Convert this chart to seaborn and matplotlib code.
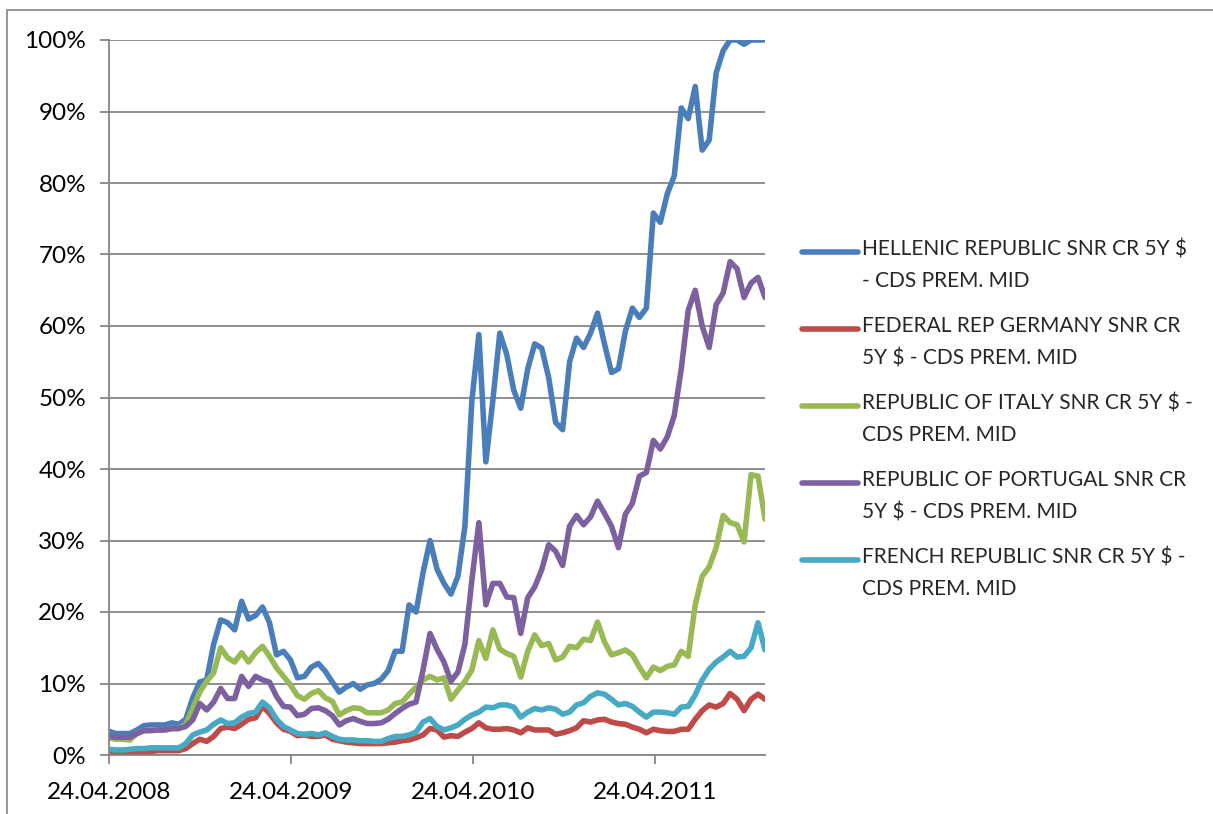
import numpy as np
import pandas as pd
import matplotlib
matplotlib.use("Agg")
import matplotlib.pyplot as plt
import matplotlib.dates as mdates
from matplotlib.patches import Rectangle
from matplotlib.legend_handler import HandlerLine2D
from matplotlib.ticker import PercentFormatter
import seaborn as sns

sns.set_style("white")
plt.rcParams['font.family'] = ['Lato', 'DejaVu Sans']

# fechas cada dos semanas desde el inicio del eje
fechas = pd.date_range("2008-04-24", periods=95, freq="14D")

grecia = [3.3, 3.0, 3.0, 3.0, 3.5, 4.1, 4.2, 4.2, 4.2, 4.5,
          4.3, 5.0, 8.0, 10.2, 10.5, 15.5, 18.9, 18.5, 17.5, 21.5,
          19.0, 19.5, 20.7, 18.5, 14.0, 14.5, 13.3, 10.8, 11.0, 12.3,
          12.8, 11.7, 10.2, 8.8, 9.5, 10.0, 9.2, 9.8, 10.0, 10.6,
          11.8, 14.5, 14.5, 21.0, 20.0, 25.5, 30.0, 26.0, 24.0, 22.5,
          25.0, 32.0, 49.6, 58.8, 41.0, 49.6, 59.0, 56.0, 51.0, 48.5,
          54.0, 57.5, 56.9, 52.8, 46.5, 45.5, 55.0, 58.3, 57.0, 59.0,
          61.8, 57.5, 53.5, 54.0, 59.3, 62.5, 61.2, 62.5, 75.8, 74.5,
          78.5, 81.0, 90.5, 89.0, 93.5, 84.6, 86.0, 95.4, 98.5, 100,
          100, 99.4, 100, 100, 100]
alemania = [0.3, 0.3, 0.4, 0.4, 0.5, 0.5, 0.5, 0.6, 0.6, 0.6,
            0.6, 0.9, 1.6, 2.2, 1.9, 2.6, 3.7, 3.9, 3.7, 4.3,
            5.0, 5.2, 6.8, 5.8, 4.5, 3.6, 3.3, 2.7, 2.8, 2.6,
            2.6, 2.8, 2.2, 2.0, 1.8, 1.7, 1.6, 1.6, 1.6, 1.6,
            1.7, 1.8, 2.0, 2.1, 2.4, 2.8, 3.7, 3.5, 2.5, 2.7,
            2.6, 3.2, 3.7, 4.5, 3.8, 3.6, 3.6, 3.7, 3.5, 3.1,
            3.8, 3.5, 3.5, 3.5, 2.9, 3.1, 3.4, 3.8, 4.8, 4.6,
            4.9, 5.0, 4.6, 4.4, 4.3, 3.9, 3.6, 3.1, 3.6, 3.4,
            3.3, 3.3, 3.6, 3.6, 5.0, 6.2, 7.0, 6.7, 7.2, 8.6,
            7.8, 6.2, 7.8, 8.5, 7.8]
italia = [2.4, 2.2, 2.2, 2.1, 3.0, 3.4, 3.5, 3.5, 3.5, 3.7,
          3.7, 4.3, 6.5, 8.8, 10.3, 11.5, 15.0, 13.6, 13.0, 14.3,
          13.0, 14.3, 15.2, 13.8, 12.2, 11.0, 9.8, 8.3, 7.8, 8.6,
          9.0, 8.0, 7.5, 5.6, 6.2, 6.6, 6.5, 5.9, 5.9, 5.9,
          6.3, 7.2, 7.4, 8.5, 9.5, 10.5, 11.0, 10.5, 10.8, 7.8,
          9.1, 10.3, 11.9, 16.0, 13.5, 17.5, 14.8, 14.2, 13.8, 10.9,
          14.5, 16.8, 15.3, 15.6, 13.3, 13.7, 15.2, 15.0, 16.2, 16.0,
          18.6, 15.8, 14.0, 14.3, 14.7, 14.0, 12.3, 10.8, 12.3, 11.8,
          12.4, 12.6, 14.5, 13.8, 21.0, 25.0, 26.3, 29.0, 33.5, 32.5,
          32.2, 29.8, 39.2, 39.0, 33.0]
portugal = [2.6, 2.5, 2.5, 2.5, 3.0, 3.4, 3.4, 3.5, 3.5, 3.7,
            3.7, 4.0, 4.9, 7.2, 6.3, 7.4, 9.3, 7.9, 7.9, 11.0,
            9.6, 11.0, 10.5, 10.2, 8.2, 6.8, 6.7, 5.5, 5.7, 6.5,
            6.6, 6.2, 5.5, 4.2, 4.8, 5.1, 4.7, 4.4, 4.4, 4.5,
            5.0, 5.8, 6.5, 7.1, 7.4, 11.9, 17.0, 14.8, 13.0, 10.3,
            11.6, 15.5, 24.5, 32.5, 21.0, 24.0, 24.0, 22.1, 22.0, 17.0,
            22.0, 23.5, 25.9, 29.4, 28.5, 26.5, 32.0, 33.5, 32.2, 33.3,
            35.5, 33.8, 32.0, 29.0, 33.7, 35.2, 39.0, 39.5, 44.0, 42.8,
            44.5, 47.5, 54.0, 62.2, 65.0, 60.0, 57.0, 63.0, 64.6, 69.0,
            68.0, 64.0, 66.0, 66.8, 64.0]
francia = [0.8, 0.7, 0.7, 0.8, 0.9, 0.9, 1.0, 1.0, 1.0, 1.0,
           1.0, 1.6, 2.8, 3.2, 3.5, 4.3, 4.9, 4.4, 4.5, 5.3,
           5.8, 6.0, 7.4, 6.6, 5.0, 4.0, 3.5, 3.0, 2.9, 3.0,
           2.8, 3.1, 2.6, 2.2, 2.1, 2.1, 2.0, 2.0, 1.9, 1.9,
           2.3, 2.6, 2.6, 2.8, 3.2, 4.6, 5.1, 4.0, 3.5, 3.8,
           4.2, 5.0, 5.6, 6.0, 6.7, 6.6, 7.0, 7.0, 6.7, 5.3,
           6.0, 6.5, 6.3, 6.6, 6.4, 5.7, 6.0, 7.0, 7.3, 8.2,
           8.7, 8.5, 7.8, 7.0, 7.2, 6.8, 6.0, 5.3, 6.0, 6.0,
           5.9, 5.7, 6.7, 6.8, 8.4, 10.5, 12.0, 13.0, 13.7, 14.5,
           13.7, 13.8, 15.0, 18.5, 14.7]

series = ["HELLENIC REPUBLIC SNR CR 5Y \\$\n- CDS PREM. MID",
          "FEDERAL REP GERMANY SNR CR\n5Y \\$ - CDS PREM. MID",
          "REPUBLIC OF ITALY SNR CR 5Y \\$ -\nCDS PREM. MID",
          "REPUBLIC OF PORTUGAL SNR CR\n5Y \\$ - CDS PREM. MID",
          "FRENCH REPUBLIC SNR CR 5Y \\$ -\nCDS PREM. MID"]
colores = ["#4A7EBB", "#BE4B48", "#98B954", "#7D60A0", "#46AAC5"]
ticks_anio = pd.to_datetime(["2008-04-24", "2009-04-24", "2010-04-24", "2011-04-24"])

# tabla larga para seaborn
valores = [grecia, alemania, italia, portugal, francia]
df = pd.concat([pd.DataFrame({"Fecha": fechas, "Valor": np.array(v) / 100, "Serie": s})
                for s, v in zip(series, valores)], ignore_index=True)


class HandlerPrimeraLinea(HandlerLine2D):
    """Sube la línea de la leyenda a la altura de la primera línea del texto."""
    def create_artists(self, legend, orig_handle, xdescent, ydescent, width, height, fontsize, trans):
        artistas = super().create_artists(legend, orig_handle, xdescent, ydescent,
                                          width, height, fontsize, trans)
        for a in artistas:
            a.set_ydata(np.asarray(a.get_ydata()) + 10.0)
        return artistas


gris = "#868686"
lw = 4.0
fig = plt.figure(figsize=(12.13, 8.14), dpi=100)
ax = fig.add_axes([109 / 1213, 59 / 814, 656 / 1213, 715 / 814])

sns.lineplot(data=df, x="Fecha", y="Valor", hue="Serie", hue_order=series,
             palette=colores, linewidth=lw, ax=ax, legend=False,
             solid_joinstyle="round", solid_capstyle="round")

ax.set_xlim(fechas[0], fechas[-1])
ax.set_ylim(0, 1.0)
ax.set_yticks(np.arange(0, 1.01, 0.1))
ax.yaxis.set_major_formatter(PercentFormatter(xmax=1.0, decimals=0))
ax.set_xticks(ticks_anio)
ax.xaxis.set_major_formatter(mdates.DateFormatter("%d.%m.%Y"))
ax.set_xlabel("")
ax.set_ylabel("")
ax.grid(axis="y", color=gris, linewidth=1.3)
ax.grid(axis="x", visible=False)
ax.set_axisbelow(True)
for lado in ["top", "right"]:
    ax.spines[lado].set_visible(False)
for lado in ["left", "bottom"]:
    ax.spines[lado].set_color(gris)
    ax.spines[lado].set_linewidth(1.3)
ax.tick_params(axis="both", direction="out", length=6.5, width=1.3, color=gris,
               labelsize=17.5, labelcolor="black")
ax.tick_params(axis="y", left=True, pad=10)
ax.tick_params(axis="x", bottom=True, pad=13)

# leyenda a la derecha
manejadores = [plt.Line2D([], [], color=c, linewidth=lw, solid_capstyle="round") for c in colores]
leg = fig.legend(manejadores, series, loc="center left", bbox_to_anchor=(802 / 1213, 0.485),
                 frameon=False, fontsize=15, handlelength=2.7, handletextpad=0.2,
                 labelspacing=1.2, borderpad=0, borderaxespad=0,
                 handler_map={plt.Line2D: HandlerPrimeraLinea()})
for t in leg.get_texts():
    t.set_linespacing(1.75)

# marco exterior del gráfico
fig.add_artist(Rectangle((7 / 1213, -0.05), 1.2, 1.05 - 10 / 814, transform=fig.transFigure,
                         fill=False, edgecolor=gris, linewidth=1.2))

fig.savefig("out.png", dpi=100)
